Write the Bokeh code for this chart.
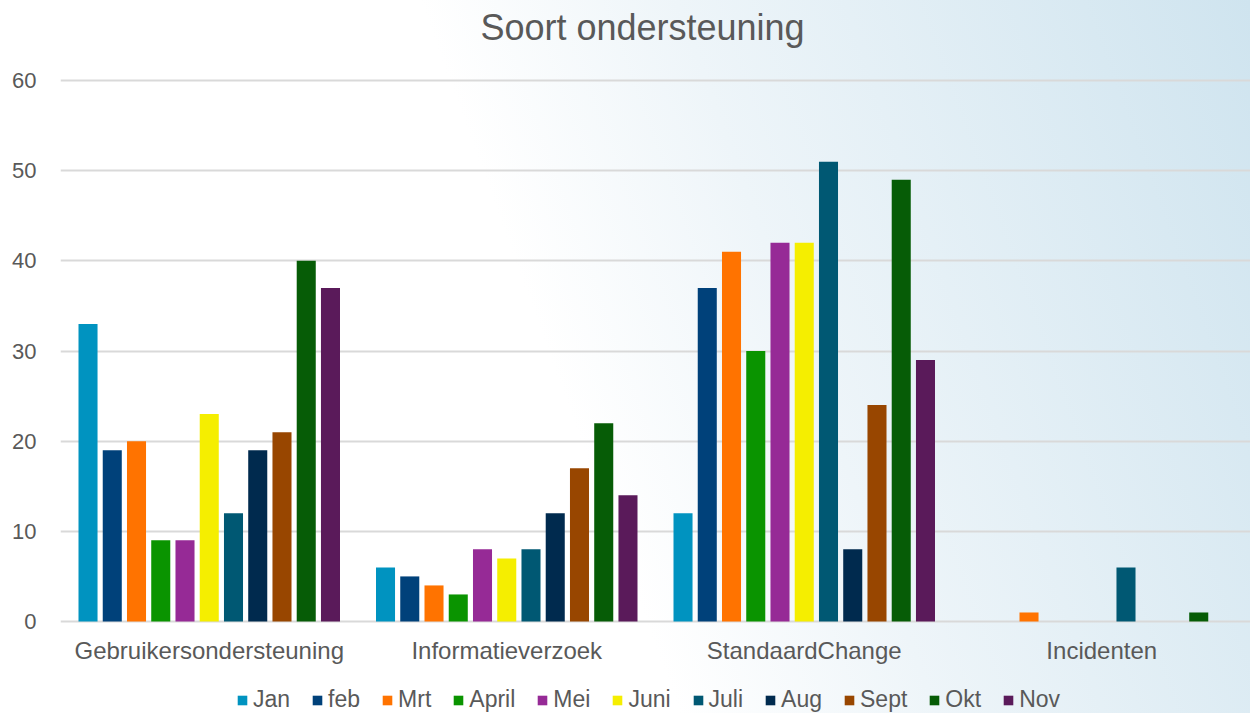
from bokeh.plotting import figure
from bokeh.models import (FactorRange, Range1d, FixedTicker, Legend, LegendItem,
                          ColumnDataSource, Label)
from bokeh.core.properties import value
from bokeh.transform import dodge
from bokeh.embed import file_html
from bokeh.resources import INLINE

categories = ["Gebruikersondersteuning", "Informatieverzoek", "StandaardChange", "Incidenten"]
months = ["Jan", "feb", "Mrt", "April", "Mei", "Juni", "Juli", "Aug", "Sept", "Okt", "Nov"]
jan = [33, 6, 12, 0]
feb = [19, 5, 37, 0]
mrt = [20, 4, 41, 1]
april = [9, 3, 30, 0]
mei = [9, 8, 42, 0]
juni = [23, 7, 42, 0]
juli = [12, 8, 51, 6]
aug = [19, 12, 8, 0]
sept = [21, 17, 24, 0]
okt = [40, 22, 49, 1]
nov = [37, 14, 29, 0]
y_ticks = [0, 10, 20, 30, 40, 50, 60]
colors = ["#0093c0", "#00417a", "#ff7300", "#0a9400", "#962a96", "#f5ee00",
          "#005873", "#002a4e", "#984600", "#065c06", "#5a1a5a"]

series = [jan, feb, mrt, april, mei, juni, juli, aug, sept, okt, nov]
data = {"cat": categories, "zero": [0] * len(categories)}
for m, s in zip(months, series):
    data[m] = s
src = ColumnDataSource(data)

FONT = "Liberation Sans"
GREY = "#595959"

# vertical scale: value 0 at y=621 px, value 60 at y=80 px, frame spans whole height
H = 713
px_per_unit = (621 - 80) / 60
y0 = -(H - 621) / px_per_unit
y1 = 60 + 80 / px_per_unit

p = figure(width=1250, height=H, output_backend="svg", toolbar_location=None,
           x_range=FactorRange(factors=categories, range_padding=0),
           y_range=Range1d(y0, y1),
           min_border_left=60, min_border_right=0, min_border_top=0, min_border_bottom=0)
p.styles = {"background": "linear-gradient(70deg, #ffffff 45%, #eef5f9 62%, #cfe4ef 100%)"}
p.border_fill_alpha = 0
p.background_fill_alpha = 0
p.outline_line_color = None

step = 0.0815
w = 0.064
items = []
for i, (m, c) in enumerate(zip(months, colors)):
    r = p.vbar(x=dodge("cat", (i - 5) * step, range=p.x_range), top=m, width=w,
               source=src, fill_color=c, line_color=None)
    items.append(LegendItem(label=m, renderers=[r]))

# category labels below the zero line
p.text(x="cat", y="zero", text="cat", source=src, y_offset=29,
       text_align="center", text_baseline="middle",
       text_font=value(FONT), text_font_size="24px", text_color=GREY)

p.yaxis.ticker = FixedTicker(ticks=y_ticks)
p.yaxis.axis_line_color = None
p.yaxis.major_tick_line_color = None
p.yaxis.minor_tick_line_color = None
p.yaxis.major_label_text_font = FONT
p.yaxis.major_label_text_font_size = "22px"
p.yaxis.major_label_text_color = GREY
p.yaxis.major_label_standoff = 18

p.xaxis.visible = False
p.xgrid.grid_line_color = None
p.ygrid.grid_line_color = "#d9d9d9"
p.ygrid.grid_line_width = 2

title = Label(x=582, y=H - 27, x_units="screen", y_units="screen",
              text="Soort ondersteuning", text_align="center", text_baseline="middle",
              text_font=FONT, text_font_size="36px", text_color=GREY)
p.add_layout(title)

legend = Legend(items=items, orientation="horizontal", location=(176, 0),
                border_line_color=None, background_fill_alpha=0,
                padding=0, margin=0, spacing=21, label_standoff=5,
                glyph_width=12, glyph_height=12,
                label_text_font=FONT, label_text_font_size="23px", label_text_color=GREY)
p.add_layout(legend, "center")

open("out.html", "w").write(file_html(p, INLINE))
